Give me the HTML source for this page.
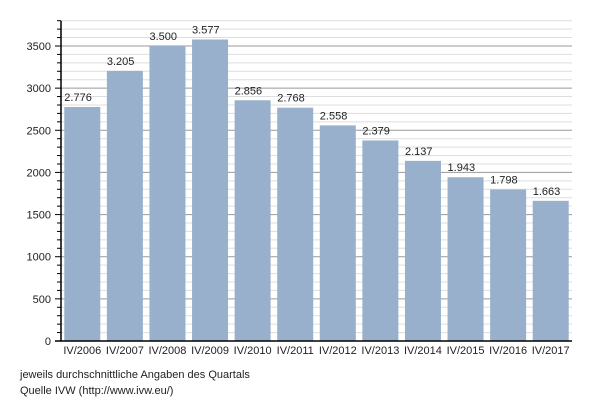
<!DOCTYPE html>
<html><head><meta charset="utf-8"><style>
body{margin:0;background:#fff;font-family:"Liberation Sans",sans-serif}
</style></head><body>
<svg id="c" width="600" height="400" style="font-family:'Liberation Sans',sans-serif">
<g id="grid"></g><g id="bars"></g><g id="axes"></g>
<text x="20" y="378" font-size="11" fill="#222">jeweils durchschnittliche Angaben des Quartals</text>
<text x="20" y="394" font-size="11" fill="#222">Quelle IVW (http://www.ivw.eu/)</text>
</svg>
<script>
const categories=["IV/2006","IV/2007","IV/2008","IV/2009","IV/2010","IV/2011","IV/2012","IV/2013","IV/2014","IV/2015","IV/2016","IV/2017"];
const values=[2776,3205,3500,3577,2856,2768,2558,2379,2137,1943,1798,1663];
const valueLabels=["2.776","3.205","3.500","3.577","2.856","2.768","2.558","2.379","2.137","1.943","1.798","1.663"];
const yTicks=[0,500,1000,1500,2000,2500,3000,3500];
const NS="http://www.w3.org/2000/svg";
const x0=61,x1=572,y0=341,yMax=3800,yTop=20.7;
const y=v=>y0-v*(y0-yTop)/yMax;
const slot=(x1-x0)/categories.length;
const xc=i=>x0+slot*(i+0.5);
function mk(tag,attrs,parent){const e=document.createElementNS(NS,tag);for(const k in attrs)e.setAttribute(k,attrs[k]);document.getElementById(parent).appendChild(e);return e;}
for(let v=100;v<=yMax;v+=100){
 const major=v%500===0;
 const l=mk("line",{x1:x0,x2:x1,y1:y(v),y2:y(v),stroke:major?"#999":"#ddd","stroke-width":1},"grid");
 
 
 const t=mk("line",{x1:x0-(major?6:4),x2:x0,y1:y(v),y2:y(v),stroke:"#000","stroke-width":1},"axes");
 
 
}
yTicks.forEach(v=>{
 const t=mk("text",{x:x0-10,y:y(v)+4,"text-anchor":"end","font-size":11,fill:"#222"},"axes");
 t.textContent=v;
 
 
});
values.forEach((v,i)=>{
 const bw=36;
 const r=mk("rect",{x:xc(i)-bw/2,y:y(v),width:bw,height:y0-y(v),fill:"#98b0cb"},"bars");
 
 
 const t=mk("text",{x:xc(i)-bw/2,y:y(v)-6,"font-size":11,fill:"#222"},"bars");
 t.textContent=valueLabels[i];
 
 
 const c=mk("text",{x:xc(i),y:y0+13,"text-anchor":"middle","font-size":11,fill:"#222"},"axes");
 c.textContent=categories[i];
 
 
});
const ya=mk("line",{x1:x0,x2:x0,y1:yTop,y2:y0,stroke:"#000","stroke-width":1.5},"axes");


const xa=mk("line",{x1:x0-6,x2:x1,y1:y0,y2:y0,stroke:"#000","stroke-width":1.5},"axes");


</script>
</body></html>
